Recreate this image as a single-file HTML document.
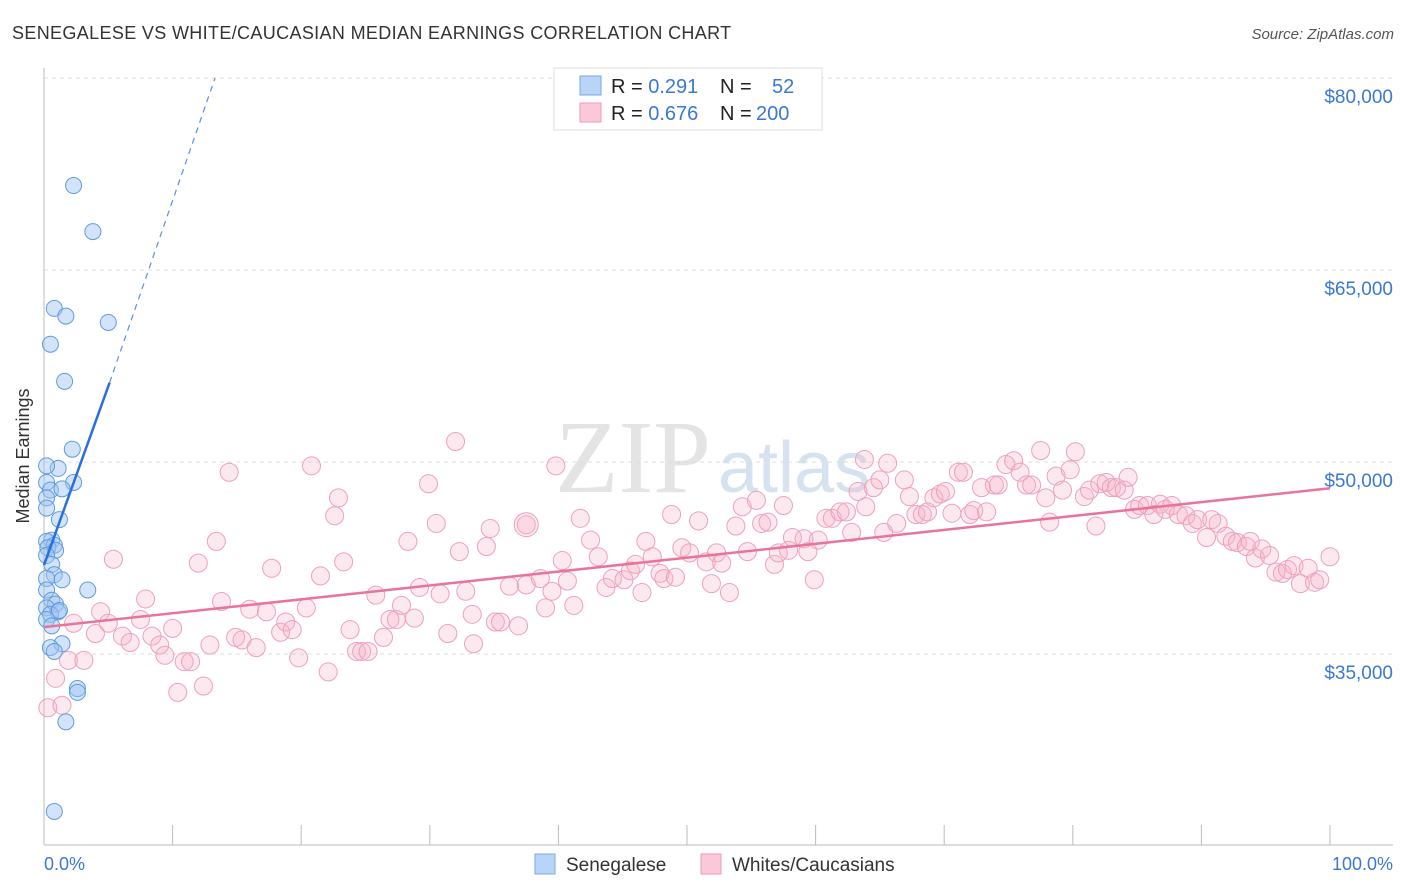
<!DOCTYPE html>
<html><head><meta charset="utf-8"><style>
body{margin:0;background:#fff;font-family:"Liberation Sans",sans-serif;}
svg{display:block}
</style></head><body>
<svg id="chart" width="1406" height="892">
<text x="12" y="39" font-size="18" fill="#333" letter-spacing="0.35">SENEGALESE VS WHITE/CAUCASIAN MEDIAN EARNINGS CORRELATION CHART</text>
<text x="1394" y="39" font-size="15" fill="#555" font-style="italic" text-anchor="end">Source: ZipAtlas.com</text>
<text x="555" y="492" font-size="104" fill="#e4e4e4" font-family="Liberation Serif,serif">ZIP</text>
<text x="718" y="492" font-size="72" fill="#d6e2f0">atlas</text>
<g id="grid"></g>
<line x1="44" y1="68" x2="44" y2="845" stroke="#bbb"/>
<line x1="44" y1="845" x2="1393" y2="845" stroke="#bbb"/>
<text x="29" y="456" font-size="18" fill="#333" text-anchor="middle" transform="rotate(-90 29 456)">Median Earnings</text>
<text x="44" y="870" font-size="18" fill="#3a78d4">0.0%</text>
<text x="1393" y="870" font-size="18" fill="#3a78d4" text-anchor="end">100.0%</text>
<g id="pinkpts"></g><g id="bluepts"></g><g id="lines"></g>
<g>
<rect x="554" y="68" width="268" height="62" fill="#fff" stroke="#ddd"/>
<rect x="580" y="76" width="21" height="19" fill="#b8d4f6" stroke="#7aaae6"/>
<rect x="580" y="103" width="21" height="19" fill="#fac8d8" stroke="#ee9ab6"/>
<text x="611" y="93" font-size="20" fill="#222">R = <tspan fill="#3a78d4">0.291</tspan><tspan x="720">N =</tspan><tspan x="772" fill="#3a78d4">52</tspan></text>
<text x="611" y="120" font-size="20" fill="#222">R = <tspan fill="#3a78d4">0.676</tspan><tspan x="720">N =</tspan><tspan x="756" fill="#3a78d4">200</tspan></text>
</g>
<g>
<rect x="535" y="854" width="20" height="20" fill="#b8d4f6" stroke="#7aaae6"/>
<text x="566" y="871" font-size="19" fill="#333">Senegalese</text>
<rect x="701" y="854" width="20" height="20" fill="#fac8d8" stroke="#ee9ab6"/>
<text x="732" y="871" font-size="19" fill="#333">Whites/Caucasians</text>
</g>
</svg>
<script>
const yTicks=[80000,65000,50000,35000];
const yTickLabels=["$80,000","$65,000","$50,000","$35,000"];
const xTicks=[0,10,20,30,40,50,60,70,80,90,100];
const blueX=[2.3,3.8,5.0,0.8,1.7,0.5,1.6,2.2,1.1,0.2,0.2,2.3,0.5,1.4,0.2,1.2,0.2,0.6,0.2,0.8,0.3,0.9,0.2,0.6,0.8,1.4,0.2,3.4,0.2,0.6,0.9,0.2,1.1,0.5,1.2,0.2,0.6,1.4,0.5,0.8,2.6,2.6,1.7,0.8];
const blueY=[71600,68000,60900,62000,61400,59200,56300,51000,49500,49700,48400,48400,47800,47900,47200,45500,46400,43900,43800,43500,43300,43100,42700,42000,41200,40800,40900,40000,40000,39200,38900,38600,38300,38100,38400,37700,37200,35800,35500,35200,32300,32000,29700,22700];
const pinkX=[0.3,0.9,1.4,2.3,1.9,3.1,4.4,4.0,5.0,5.4,6.1,6.7,7.5,7.9,8.4,9.0,9.4,10.0,10.4,10.9,11.4,12.0,12.4,12.9,13.4,13.8,14.4,14.9,15.4,16.0,16.5,17.3,17.7,18.4,18.8,19.3,19.8,20.4,20.8,21.5,22.1,22.6,22.9,23.3,23.8,24.3,24.7,25.2,25.8,26.4,26.9,27.4,27.8,28.3,28.8,29.2,29.9,30.5,30.8,31.4,32.0,32.3,32.8,33.3,33.4,34.4,34.7,35.1,35.5,36.2,36.9,37.5,37.5,38.6,39.0,39.5,39.8,40.3,40.7,41.2,41.7,42.5,43.1,43.7,44.2,45.1,45.6,46.0,46.5,46.8,47.3,47.9,48.2,48.8,49.1,49.6,50.2,50.9,51.5,51.9,52.3,52.7,53.3,53.8,54.3,54.7,55.4,55.8,56.3,56.8,57.1,57.5,57.9,58.2,59.1,59.4,59.9,60.2,60.8,61.3,61.9,62.4,62.8,63.3,63.8,63.9,64.5,65.0,65.3,65.6,66.3,66.9,67.3,67.8,68.3,68.7,69.2,69.7,70.1,70.6,71.1,71.5,72.0,72.3,72.9,73.3,73.9,74.2,74.8,75.4,75.9,76.4,76.8,77.5,77.9,78.2,78.7,79.2,79.8,80.2,80.9,81.3,81.8,82.1,82.6,83.0,83.4,84.0,84.3,84.8,85.2,85.8,86.3,86.8,87.2,87.7,88.2,88.8,89.3,89.7,90.4,90.8,91.3,91.9,92.4,92.8,93.5,93.8,94.2,94.7,95.3,95.8,96.3,96.7,97.2,97.7,98.3,98.8,99.2,100];
const pinkY=[30800,33100,31000,37400,34500,34500,38300,36600,37400,42400,36400,35900,37700,39300,36400,35700,34900,37000,32000,34400,34400,42100,32500,35700,43800,39100,49200,36300,36100,38500,35500,38300,41700,36700,37500,36900,34700,38600,49700,41100,33600,45800,47200,42200,36900,35200,35200,35200,39600,36300,37700,37700,38800,43800,37800,40200,48300,45200,39700,36600,51600,43000,39900,38100,35800,43400,44800,37500,37500,40300,37200,45100,40400,40900,38600,39900,49700,42300,40700,38800,45600,43900,42600,40200,40900,40800,41500,42000,39800,43800,42600,41300,40900,45900,41000,43300,42900,45400,42200,40500,42900,42100,39800,45000,46500,43000,47000,45200,45300,42000,42900,46600,43100,44100,44000,43000,40800,43900,45600,45600,46100,46100,44500,47700,50200,46500,48000,48600,44500,49900,45200,48600,47300,45900,45900,46100,47200,47500,47700,46000,49200,49200,45900,46200,48000,46100,48200,48200,49800,50100,49200,48200,48200,50900,47200,45300,48900,47800,49400,50800,47300,47800,45000,48300,48400,48000,48000,47800,48800,46300,46600,46600,45900,46700,46300,46600,45900,45800,45200,45500,44100,45500,45200,44200,43800,43700,43400,43800,42500,43200,42700,41400,41300,41600,41900,40500,41700,40600,40800,42600];
const bigPoint=[37.5,45100];
const pinkTrend=[[0,37100],[100,47950]];
const blueTrend=[[0,41950],[5.1,56200],[13.3,80000]];
const NS="http://www.w3.org/2000/svg";
const xs=p=>44+p*12.86;
const ys=v=>462-(v-50000)*0.0128;
function mk(tag,attrs,parent){const e=document.createElementNS(NS,tag);for(const k in attrs)e.setAttribute(k,attrs[k]);parent.appendChild(e);return e;}
const grid=document.getElementById('grid');
yTicks.forEach((t,i)=>{
 const l=mk('line',{x1:44,x2:1393,y1:ys(t),y2:ys(t),stroke:'#ddd','stroke-dasharray':'4 4'},grid);
 
 
 const tx=mk('text',{x:1393,y:ys(t)+25,'font-size':19,fill:'#3a78d4','text-anchor':'end'},grid);
 tx.textContent=yTickLabels[i];
 
 
});
xTicks.forEach(t=>{
 const l=mk('line',{x1:xs(t),x2:xs(t),y1:825,y2:845,stroke:'#bbb'},grid);
 
 
});
const pg=document.getElementById('pinkpts');
pinkX.forEach((x,i)=>{
 const c=mk('circle',{cx:xs(x),cy:ys(pinkY[i]),r:9,fill:'rgba(246,178,202,0.3)',stroke:'#eea0bb','stroke-width':1},pg);
 
 
});
const big=mk('circle',{cx:xs(bigPoint[0]),cy:ys(bigPoint[1]),r:12,fill:'rgba(246,178,202,0.3)',stroke:'#eea0bb'},pg);


const bg=document.getElementById('bluepts');
blueX.forEach((x,i)=>{
 const c=mk('circle',{cx:xs(x),cy:ys(blueY[i]),r:8,fill:'rgba(160,196,240,0.45)',stroke:'#5f9be0','stroke-width':1},bg);
 
 
});
const lg=document.getElementById('lines');
const pl=mk('line',{x1:xs(pinkTrend[0][0]),y1:ys(pinkTrend[0][1]),x2:xs(pinkTrend[1][0]),y2:ys(pinkTrend[1][1]),stroke:'#e8739c','stroke-width':2.5},lg);


const bl=mk('line',{x1:xs(blueTrend[0][0]),y1:ys(blueTrend[0][1]),x2:xs(blueTrend[1][0]),y2:ys(blueTrend[1][1]),stroke:'#2a6fdb','stroke-width':2.5},lg);


const bd=mk('line',{x1:xs(blueTrend[1][0]),y1:ys(blueTrend[1][1]),x2:xs(blueTrend[2][0]),y2:ys(blueTrend[2][1]),stroke:'#5a8fe0','stroke-width':1.2,'stroke-dasharray':'6 5'},lg);


</script>
</body></html>
